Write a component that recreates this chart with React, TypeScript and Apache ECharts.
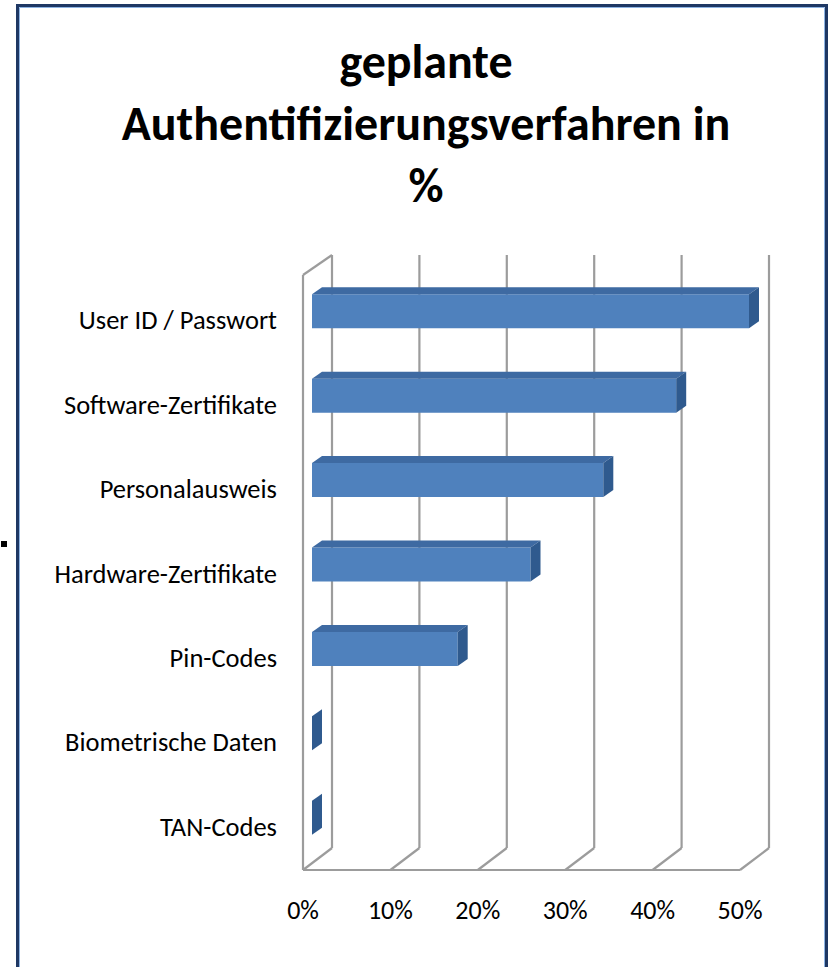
import React, { useEffect, useRef } from "react";
import * as echarts from "echarts";

const categories = [
  "User ID / Passwort",
  "Software-Zertifikate",
  "Personalausweis",
  "Hardware-Zertifikate",
  "Pin-Codes",
  "Biometrische Daten",
  "TAN-Codes",
];
const values = [50, 41.67, 33.33, 25, 16.67, 0, 0];
const xTicks = [0, 10, 20, 30, 40, 50];
const titleLines = ["geplante", "Authentifizierungsverfahren in", "%"];

const FONT = "Carlito, Lato, 'Open Sans', sans-serif";
const GRID_COLOR = "#9c9c9c";
const DX = 29; // wall depth
const DY = 22;
const BAR_OFF_X = 9;
const BAR_OFF_Y = 9;
const BAR_H = 34;
const BAR_DX = 10;
const BAR_DY = 7;

export default function App() {
  const ref = useRef<HTMLDivElement>(null);
  useEffect(() => {
    if (!ref.current) return;
    const chart = echarts.init(ref.current, null, { renderer: "svg" });
    const option: any = {
      animation: false,
      backgroundColor: "#ffffff",
      title: {
        text: titleLines.join("\n"),
        left: 421,
        textAlign: "center",
        top: 25,
        textStyle: {
          fontFamily: FONT,
          fontSize: 48,
          fontWeight: "bold",
          lineHeight: 62,
          color: "#000000",
        },
      },
      grid: { left: 303, top: 278, width: 437, height: 591, containLabel: false },
      xAxis: {
        type: "value",
        min: 0,
        max: 50,
        interval: 10,
        axisLine: { show: false },
        axisTick: { show: false },
        splitLine: { show: false },
        axisLabel: {
          formatter: "{value}%",
          fontFamily: FONT,
          fontSize: 26,
          color: "#000000",
          margin: 28,
        },
      },
      yAxis: {
        type: "category",
        inverse: true,
        data: categories,
        axisLine: { show: false },
        axisTick: { show: false },
        splitLine: { show: false },
        axisLabel: {
          fontFamily: FONT,
          fontSize: 26.5,
          color: "#000000",
          margin: 26,
        },
      },
      graphic: [
        {
          type: "rect",
          shape: { x: 17.5, y: 5.5, width: 809, height: 1000 },
          style: { fill: "none", stroke: "#1f3864", lineWidth: 3 },
          silent: true,
        },
        {
          type: "rect",
          shape: { x: 19.5, y: 7.5, width: 805, height: 1000 },
          style: { fill: "none", stroke: "#8eb4e3", lineWidth: 1 },
          silent: true,
        },
        {
          type: "rect",
          shape: { x: 1, y: 541, width: 6, height: 6 },
          style: { fill: "#000000" },
          silent: true,
        },
      ],
      series: [
        {
          type: "custom",
          name: "walls",
          silent: true,
          data: xTicks.map((t, i) => [t, i]),
          encode: { x: 0 },
          renderItem: (params: any, api: any) => {
            const cs = params.coordSys;
            const v = api.value(0);
            const idx = api.value(1);
            const x = api.coord([v, 0])[0];
            const frontTop = cs.y - 3;
            const frontBottom = cs.y + cs.height + 1;
            const lineStyle = { stroke: GRID_COLOR, lineWidth: 2.2, fill: "none" };
            const children: any[] = [
              {
                type: "line",
                shape: { x1: x + DX, y1: frontTop - DY + 2, x2: x + DX, y2: frontBottom - DY },
                style: lineStyle,
              },
              {
                type: "line",
                shape: { x1: x, y1: frontBottom, x2: x + DX, y2: frontBottom - DY },
                style: lineStyle,
              },
            ];
            if (idx === 0) {
              const xEnd = api.coord([xTicks[xTicks.length - 1], 0])[0];
              children.push(
                {
                  type: "line",
                  shape: { x1: x, y1: frontTop, x2: x, y2: frontBottom },
                  style: lineStyle,
                },
                {
                  type: "line",
                  shape: { x1: x, y1: frontTop, x2: x + DX, y2: frontTop - DY + 2 },
                  style: lineStyle,
                },
                {
                  type: "line",
                  shape: { x1: x, y1: frontBottom, x2: xEnd, y2: frontBottom },
                  style: lineStyle,
                }
              );
            }
            return { type: "group", children };
          },
          z: 1,
        },
        {
          type: "custom",
          name: "bars",
          data: values.map((v, i) => [v, i]),
          encode: { x: 0, y: 1 },
          renderItem: (params: any, api: any) => {
            const v = api.value(0);
            const i = api.value(1);
            const p0 = api.coord([0, i]);
            const p1 = api.coord([v, i]);
            const x0 = p0[0] + BAR_OFF_X;
            const x1 = p1[0] + BAR_OFF_X;
            const cy = p0[1] - BAR_OFF_Y;
            const top = cy - BAR_H / 2;
            const bottom = cy + BAR_H / 2;
            const children: any[] = [];
            if (x1 - x0 > 0.5) {
              children.push(
                {
                  type: "rect",
                  shape: { x: x0, y: top, width: x1 - x0, height: BAR_H },
                  style: { fill: "#4f81bd" },
                },
                {
                  type: "polygon",
                  shape: {
                    points: [
                      [x0, top],
                      [x1, top],
                      [x1 + BAR_DX, top - BAR_DY],
                      [x0 + BAR_DX, top - BAR_DY],
                    ],
                  },
                  style: { fill: "#3e6aa2" },
                }
              );
            }
            children.push({
              type: "polygon",
              shape: {
                points: [
                  [x1, top],
                  [x1 + BAR_DX, top - BAR_DY],
                  [x1 + BAR_DX, bottom - BAR_DY],
                  [x1, bottom],
                ],
              },
              style: { fill: "#2f5a8e" },
            });
            return { type: "group", children };
          },
          z: 2,
        },
      ],
    };
    chart.setOption(option);
    return () => chart.dispose();
  }, []);
  return (
    <div
      ref={ref}
      style={{ position: "fixed", left: 0, top: 0, width: 829, height: 967, background: "#fff" }}
    />
  );
}
